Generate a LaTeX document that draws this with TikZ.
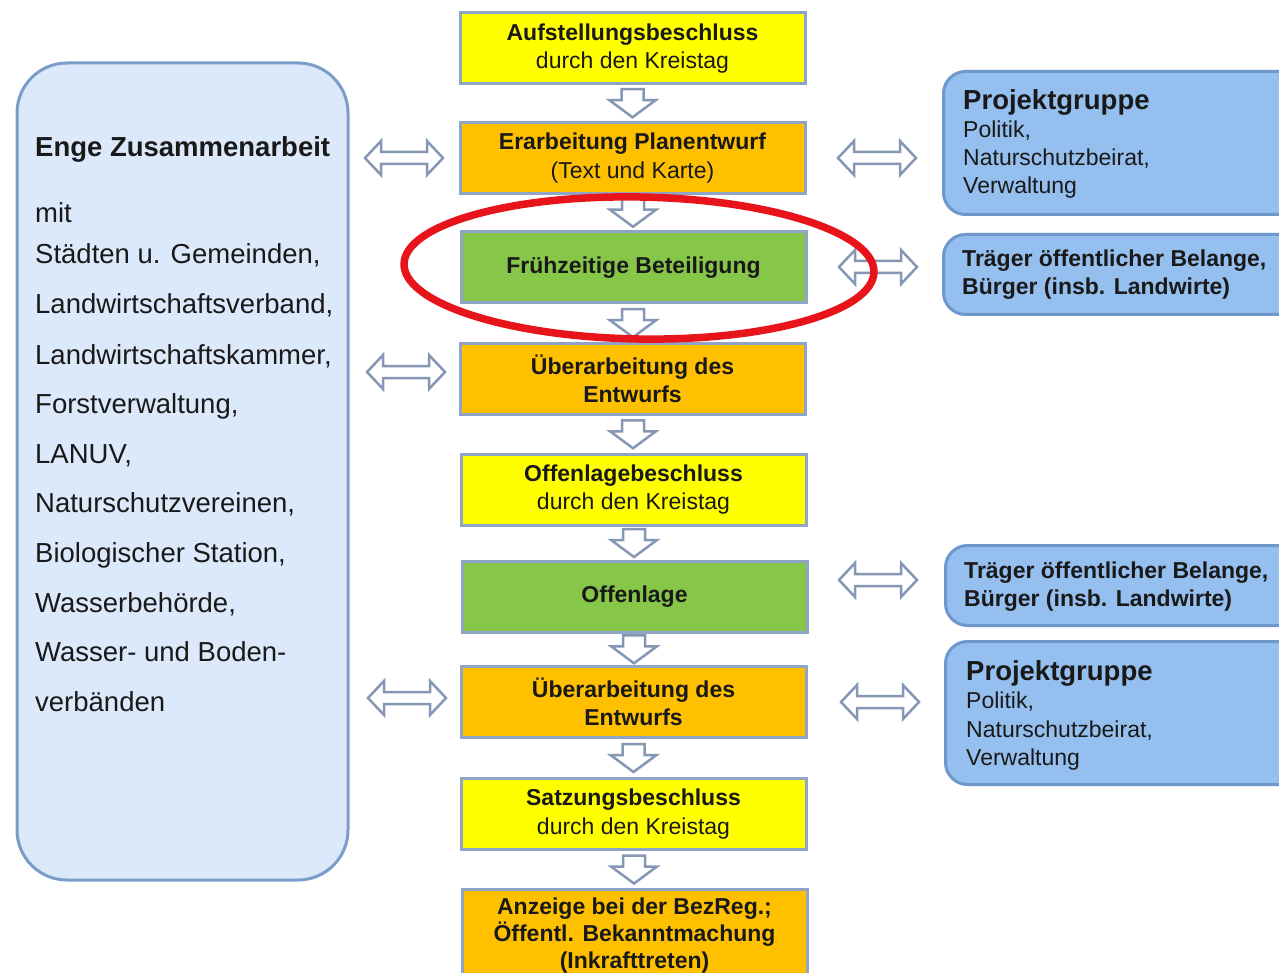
\documentclass[tikz,border=0pt]{standalone}
\usepackage{fontspec}
\setmainfont{Liberation Sans}
\usetikzlibrary{calc}
\definecolor{cyel}{RGB}{255,255,0}
\definecolor{cora}{RGB}{255,192,0}
\definecolor{cgrn}{RGB}{134,198,72}
\definecolor{cbord}{RGB}{143,164,199}
\definecolor{lfill}{RGB}{220,233,250}
\definecolor{lbord}{RGB}{122,156,200}
\definecolor{rfill}{RGB}{149,191,238}
\definecolor{rbord}{RGB}{110,151,204}
\definecolor{arrc}{RGB}{133,151,181}
\definecolor{ringred}{RGB}{232,20,27}
\definecolor{txt}{RGB}{25,25,25}
\tikzset{
  cbox/.style={draw=cbord, line width=3, minimum width=345, minimum height=71,
    align=center, inner sep=0, text=txt, font=\fontsize{23}{28.5}\selectfont},
  lbox/.style={draw=lbord, fill=lfill, line width=3, rounded corners=50, inner sep=0},
  rbox/.style={draw=rbord, fill=rfill, line width=3, rounded corners=22, inner sep=0},
  ltext/.style={anchor=base west, inner sep=0, text=txt, font=\fontsize{27.5}{30}\selectfont},
  rtext/.style={anchor=base west, inner sep=0, text=txt, font=\fontsize{23}{28}\selectfont},
  rhead/.style={anchor=base west, inner sep=0, text=txt, font=\fontsize{27.5}{30}\selectfont\bfseries},
  blk/.style={draw=arrc, fill=white, line width=2.5, line join=miter},
  downarrow/.pic={\draw[blk] (-11,-14) -- (11,-14) -- (11,-3) -- (23,-3) -- (0,14) -- (-23,-3) -- (-11,-3) -- cycle;},
  dblarrow/.pic={\draw[blk] (-39,0) -- (-23,-17) -- (-23,-6) -- (23,-6) -- (23,-17) -- (39,0) -- (23,17) -- (23,6) -- (-23,6) -- (-23,17) -- cycle;}
}
\begin{document}
\begin{tikzpicture}[x=1pt,y=-1pt]
\useasboundingbox (0,0) rectangle (1279,973);
\fill[white] (0,0) rectangle (1279,973);

% left box
\node[lbox, minimum width=331, minimum height=817] (left) at (182.5,471.5) {};
\node[ltext, font=\fontsize{27.5}{30}\selectfont\bfseries] (l0) at (35,157) {Enge Zusammenarbeit};
\node[ltext] (l1) at (35,223) {mit};
\node[ltext] (l2) at (35,264) {Städten u. Gemeinden,};
\node[ltext] (l3) at (35,314) {Landwirtschaftsverband,};
\node[ltext] (l4) at (35,364) {Landwirtschaftskammer,};
\node[ltext] (l5) at (35,413) {Forstverwaltung,};
\node[ltext] (l6) at (35,463) {LANUV,};
\node[ltext] (l7) at (35,512) {Naturschutzvereinen,};
\node[ltext] (l8) at (35,562) {Biologischer Station,};
\node[ltext] (l9) at (35,612) {Wasserbehörde,};
\node[ltext] (l10) at (35,661) {Wasser- und Boden-};
\node[ltext] (l11) at (35,711) {verbänden};

% center column
\node[cbox, fill=cyel] (b1) at (632.5,48.5) {\textbf{Aufstellungsbeschluss}\\durch den Kreistag};
\node[cbox, fill=cora] (b2) at (632.5,158) {\textbf{Erarbeitung Planentwurf}\\(Text und Karte)};
\node[cbox, fill=cgrn] (b3) at (633.5,267.5) {\textbf{Frühzeitige Beteiligung}};
\node[cbox, fill=cora] (b4) at (632.5,379) {\textbf{Überarbeitung des}\\\textbf{Entwurfs}};
\node[cbox, fill=cyel] (b5) at (633.5,489.5) {\textbf{Offenlagebeschluss}\\durch den Kreistag};
\node[cbox, fill=cgrn] (b6) at (634.5,596.5) {\textbf{Offenlage}};
\node[cbox, fill=cora] (b7) at (633.5,702) {\textbf{Überarbeitung des}\\\textbf{Entwurfs}};
\node[cbox, fill=cyel] (b8) at (633.5,814) {\textbf{Satzungsbeschluss}\\durch den Kreistag};
\node[cbox, fill=cora, minimum height=92, font=\fontsize{23}{27}\selectfont\bfseries] (b9) at (634.5,935.5) {Anzeige bei der BezReg.;\\Öffentl. Bekanntmachung\\(Inkrafttreten)};

% down arrows
\pic at ($(b1.south)!0.5!(b2.north)$) {downarrow};
\pic at ($(b2.south)!0.5!(b3.north)$) {downarrow};
\pic at ($(b3.south)!0.5!(b4.north)$) {downarrow};
\pic at ($(b4.south)!0.5!(b5.north)$) {downarrow};
\pic at ($(b5.south)!0.5!(b6.north)$) {downarrow};
\pic at ($(b6.south)!0.5!(b7.north)$) {downarrow};
\pic at ($(b7.south)!0.5!(b8.north)$) {downarrow};
\pic at ($(b8.south)!0.5!(b9.north)$) {downarrow};

% right boxes
\node[rbox, minimum width=370, minimum height=143, anchor=north west] (r1) at (942,70) {};
\node[rhead] (r1a) at (963,110) {Projektgruppe};
\node[rtext] (r1b) at (963,138) {Politik,};
\node[rtext] (r1c) at (963,166) {Naturschutzbeirat,};
\node[rtext] (r1d) at (963,194) {Verwaltung};

\node[rbox, minimum width=370, minimum height=80, anchor=north west] (r2) at (942,233) {};
\node[rtext, font=\fontsize{23}{28}\selectfont\bfseries] (r2a) at (962,267) {Träger öffentlicher Belange,};
\node[rtext, font=\fontsize{23}{28}\selectfont\bfseries] (r2b) at (962,295) {Bürger (insb. Landwirte)};

\node[rbox, minimum width=370, minimum height=80, anchor=north west] (r3) at (944,544) {};
\node[rtext, font=\fontsize{23}{28}\selectfont\bfseries] (r3a) at (964,578) {Träger öffentlicher Belange,};
\node[rtext, font=\fontsize{23}{28}\selectfont\bfseries] (r3b) at (964,606) {Bürger (insb. Landwirte)};

\node[rbox, minimum width=370, minimum height=143, anchor=north west] (r4) at (944,640) {};
\node[rhead] (r4a) at (966,680) {Projektgruppe};
\node[rtext] (r4b) at (966,708) {Politik,};
\node[rtext] (r4c) at (966,737) {Naturschutzbeirat,};
\node[rtext] (r4d) at (966,765) {Verwaltung};

% double arrows
\pic at (404,158) {dblarrow};
\pic at (406,372) {dblarrow};
\pic at (407,698) {dblarrow};
\pic at (877,158) {dblarrow};
\pic at (878,267) {dblarrow};
\pic at (878,580) {dblarrow};
\pic at (880,702) {dblarrow};

% red ring
\draw[ringred, line width=7.5] (639,268) ellipse [x radius=235, y radius=71, rotate=-1];
\end{tikzpicture}
\end{document}
